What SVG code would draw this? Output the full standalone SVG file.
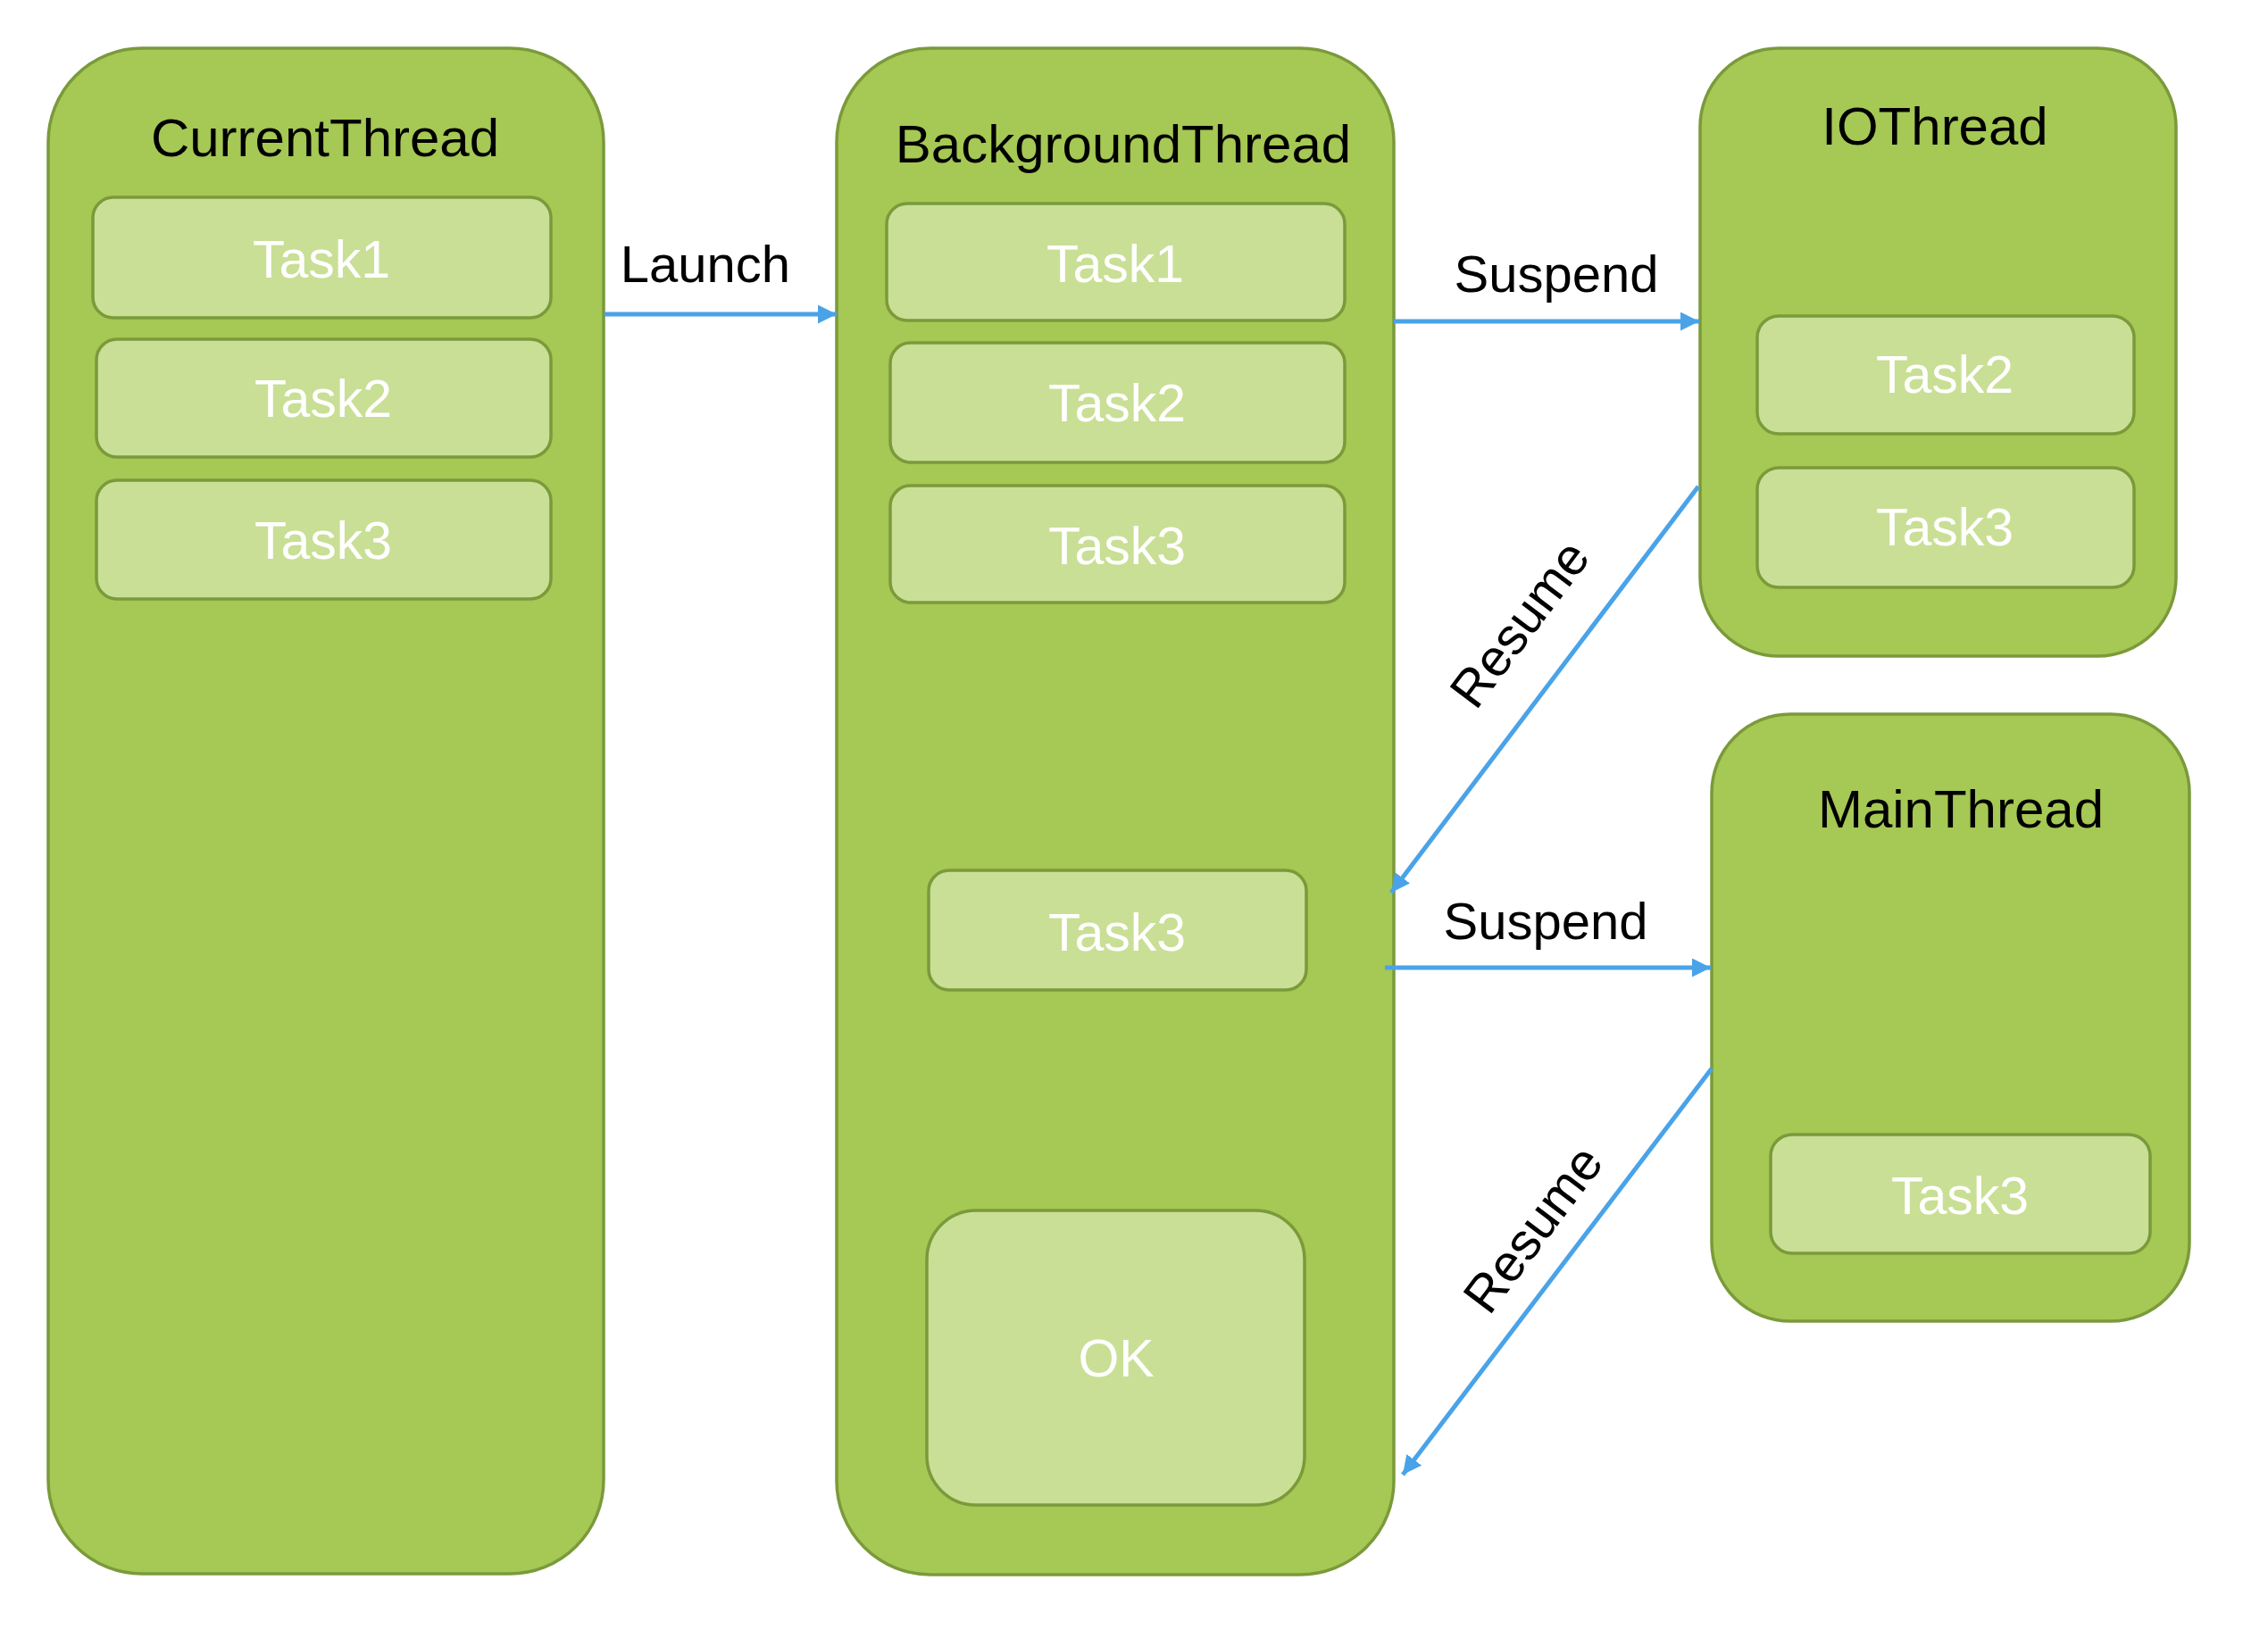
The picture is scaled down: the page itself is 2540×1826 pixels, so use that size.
<svg xmlns="http://www.w3.org/2000/svg" width="2540" height="1826" viewBox="0 0 2540 1826">
<style>
.thread{fill:#A6C854;stroke:#7A9A3B;stroke-width:3.5}
.task{fill:#C9DF95;stroke:#7A9A3B;stroke-width:3.5}
.title{font-family:"Liberation Sans",Arial,sans-serif;font-size:60px;fill:#000;text-anchor:middle}
.tt{font-family:"Liberation Sans",Arial,sans-serif;font-size:59px;fill:#fff;text-anchor:middle}
.lbl{font-family:"Liberation Sans",Arial,sans-serif;font-size:58px;fill:#000;text-anchor:middle}
.conn{stroke:#4AA3E8;stroke-width:5;fill:none;marker-end:url(#arr)}
</style>
<defs>
<marker id="arr" markerUnits="userSpaceOnUse" markerWidth="22" markerHeight="22" refX="21" refY="10.5" orient="auto">
<path d="M0,0 L21,10.5 L0,21 z" fill="#4AA3E8"/>
</marker>
</defs>
<rect width="2540" height="1826" fill="#fff"/>
<g id="current-thread">
<rect class="thread" x="54" y="54" width="622" height="1709" rx="105" ry="105"/>
<text class="title" x="364" y="175">CurrentThread</text>
<rect class="task" x="104" y="221" width="513" height="135" rx="23"/>
<text class="tt" x="360" y="311">Task1</text>
<rect class="task" x="108" y="380" width="509" height="132" rx="23"/>
<text class="tt" x="362" y="467">Task2</text>
<rect class="task" x="108" y="538" width="509" height="133" rx="23"/>
<text class="tt" x="362" y="626">Task3</text>
</g>
<g id="background-thread">
<rect class="thread" x="937" y="54" width="624" height="1710" rx="105" ry="105"/>
<text class="title" x="1258" y="182">BackgroundThread</text>
<rect class="task" x="993" y="228" width="513" height="131" rx="23"/>
<text class="tt" x="1249" y="316">Task1</text>
<rect class="task" x="997" y="384" width="509" height="134" rx="23"/>
<text class="tt" x="1251" y="472">Task2</text>
<rect class="task" x="997" y="544" width="509" height="131" rx="23"/>
<text class="tt" x="1251" y="632">Task3</text>
<rect class="task" x="1040" y="975" width="423" height="134" rx="23"/>
<text class="tt" x="1251" y="1065">Task3</text>
<rect class="task" x="1038" y="1356" width="423" height="330" rx="55"/>
<text class="tt" x="1250" y="1542">OK</text>
</g>
<g id="io-thread">
<rect class="thread" x="1904" y="54" width="533" height="681" rx="88" ry="88"/>
<text class="title" x="2167" y="162">IOThread</text>
<rect class="task" x="1968" y="354" width="422" height="132" rx="24"/>
<text class="tt" x="2178" y="440">Task2</text>
<rect class="task" x="1968" y="524" width="422" height="134" rx="24"/>
<text class="tt" x="2178" y="611">Task3</text>
</g>
<g id="main-thread">
<rect class="thread" x="1917" y="800" width="535" height="680" rx="88" ry="88"/>
<text class="title" x="2196" y="927">MainThread</text>
<rect class="task" x="1983" y="1271" width="425" height="133" rx="24"/>
<text class="tt" x="2195" y="1360">Task3</text>
</g>
<g id="connectors">
<line class="conn" x1="677" y1="352" x2="937" y2="352"/>
<text class="lbl" x="790" y="316">Launch</text>
<line class="conn" x1="1561" y1="360" x2="1903" y2="360"/>
<text class="lbl" x="1743" y="327">Suspend</text>
<line class="conn" x1="1902" y1="545" x2="1558" y2="1000"/>
<text class="lbl" transform="translate(1701,698) rotate(-53)" x="0" y="21">Resume</text>
<line class="conn" x1="1551" y1="1084" x2="1916" y2="1084"/>
<text class="lbl" x="1731" y="1052">Suspend</text>
<line class="conn" x1="1917" y1="1197" x2="1571" y2="1652"/>
<text class="lbl" transform="translate(1716,1376) rotate(-53)" x="0" y="21">Resume</text>
</g>
</svg>
